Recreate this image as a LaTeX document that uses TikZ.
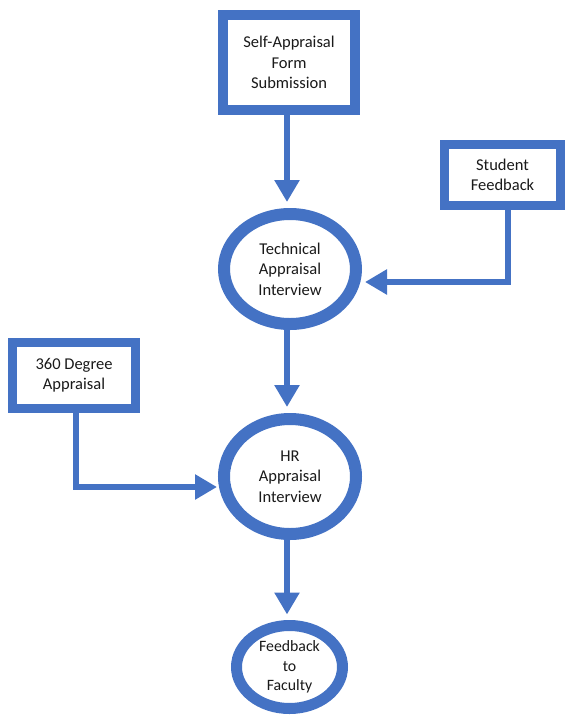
\documentclass[tikz,border=0pt]{standalone}
\usepackage{fontspec}
\setmainfont{Carlito}
\usetikzlibrary{arrows.meta,shapes.geometric}
\definecolor{obl}{HTML}{4472C4}
\definecolor{txt}{HTML}{1A1A1A}
\tikzset{
  boxn/.style={draw=obl, fill=white, rectangle, inner sep=0pt, align=center, text=txt,
    font=\fontsize{16.5}{20.5}\selectfont},
  elln/.style={draw=obl, fill=white, ellipse, inner sep=0pt, align=center, text=txt,
    font=\fontsize{16.5}{20.5}\selectfont},
  conn/.style={draw=obl, line width=6pt, -{Triangle[width=24pt,length=22pt]}}
}
\begin{document}
\begin{tikzpicture}[x=1pt,y=-1pt]
\useasboundingbox (0,0) rectangle (567,716);
\node[boxn, line width=10pt, minimum width=132pt, minimum height=95pt] (self) at (289,62.5)
  {Self-Appraisal\\Form\\Submission};
\node[boxn, line width=9pt, minimum width=116pt, minimum height=61pt] (stud) at (502.5,175)
  {Student\\Feedback};
\node[boxn, line width=9pt, minimum width=123pt, minimum height=66pt] (deg) at (74,375.5)
  {360 Degree\\Appraisal};
\node[elln, line width=12pt, minimum width=132pt, minimum height=110pt] (tech) at (290,269)
  {Technical\\Appraisal\\Interview};
\node[elln, line width=12pt, minimum width=132pt, minimum height=115pt] (hr) at (290,476.5)
  {HR\\Appraisal\\Interview};
\node[elln, line width=11pt, minimum width=106pt, minimum height=83pt,
  font=\fontsize{15.8}{19.5}\selectfont] (fac) at (289.5,667)
  {Feedback\\to\\Faculty};
\coordinate (t1) at (365,282);
\coordinate (t2) at (217,487);
\draw[conn, shorten >=6pt] ([xshift=-2pt]self.south) -- ([xshift=-3pt]tech.north);
\draw[conn, shorten >=6pt] ([xshift=-3pt]tech.south) -- ([xshift=-3pt]hr.north);
\draw[conn, shorten >=5.5pt] ([xshift=-3pt]hr.south) -- ([xshift=-2.5pt]fac.north);
\draw[conn] ([xshift=5pt]stud.south) |- (t1);
\draw[conn] ([xshift=2pt]deg.south) |- (t2);
\end{tikzpicture}
\end{document}
